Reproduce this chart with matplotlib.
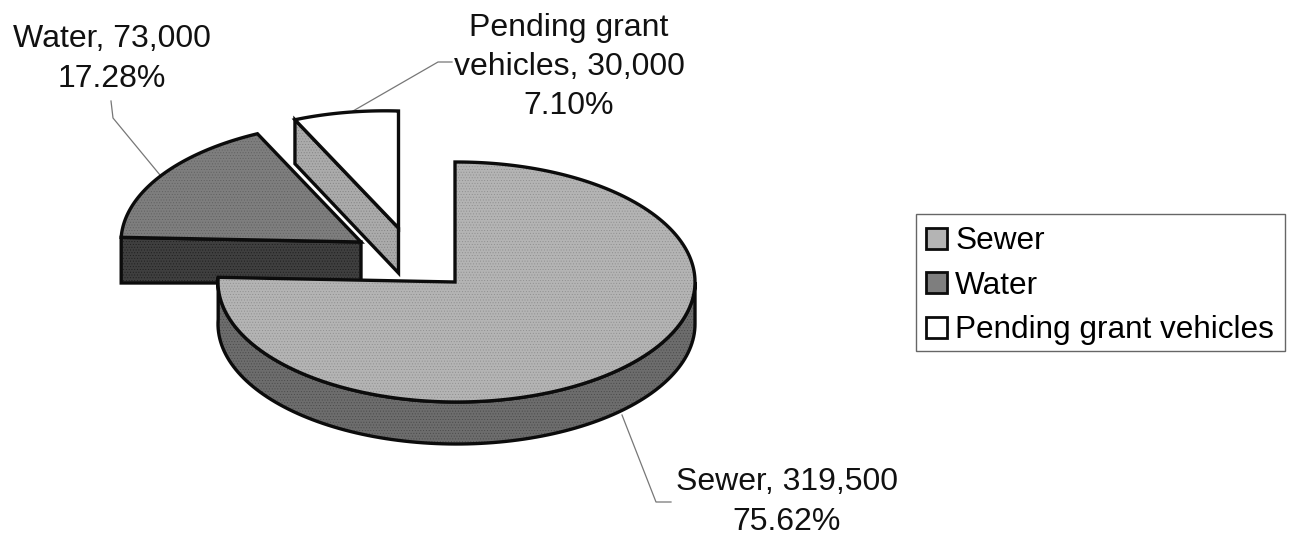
import numpy as np
import matplotlib
matplotlib.use("Agg")
import matplotlib.pyplot as plt
from matplotlib.patches import Polygon, Patch, Rectangle

categories = ["Sewer", "Water", "Pending grant vehicles"]
values = [319500, 73000, 30000]
percent_labels = ["75.62%", "17.28%", "7.10%"]
value_labels = ["319,500", "73,000", "30,000"]

plt.rcParams["font.family"] = ["Liberation Sans", "DejaVu Sans"]
plt.rcParams["hatch.linewidth"] = 0.35

fig = plt.figure(figsize=(12.92, 5.37), dpi=100)
ax = fig.add_axes([0, 0, 1, 1])
ax.set_xlim(0, 1292)
ax.set_ylim(537, 0)
ax.axis("off")

RX, RY, DEPTH = 240, 120, 42
fractions = np.array(values) / sum(values)
ends = np.cumsum(fractions) * 360
starts = ends - fractions * 360


def arc(cx, cy, a0, a1, n=120, rx=RX):
    t = np.radians(np.linspace(a0, a1, n))
    return np.column_stack([cx + rx * np.sin(t), cy - RY * np.cos(t)])


def face(pts, color, tex, z, outline=True):
    ax.add_patch(Polygon(pts, closed=True, facecolor=color, edgecolor=tex,
                         hatch="......" if tex else None, lw=0, zorder=z))
    if outline:
        ax.add_patch(Polygon(pts, closed=True, fill=False, edgecolor="#0c0c0c",
                             lw=2.4, joinstyle="miter", zorder=z + 0.1))


# Water slice
wx, wy = 361, 242
w_arc = arc(wx, wy, starts[1], ends[1])
face(np.array([[wx, wy], [w_arc[0][0], w_arc[0][1]], [w_arc[0][0], wy + DEPTH - 1], [wx, wy + DEPTH - 1]]),
     "#3f3f3f", "#1c1c1c", 2)
face(np.vstack([[wx, wy], w_arc]), "#7e7e7e", "#5e5e5e", 3)

# Pending grant vehicles slice
px, py = 398.5, 228
p_arc = arc(px, py, starts[2], ends[2])
p_arc[:, 1] += (111 - p_arc[-1, 1]) * np.linspace(0, 1, len(p_arc))
face(np.array([p_arc[0], [px, py], [px, py + 45], [p_arc[0][0], p_arc[0][1] + 44]]),
     "#ababab", "#808080", 4)
face(np.vstack([[px, py], p_arc]), "white", None, 5)

# Sewer slice
sx, sy = 455, 282
arc_cx, arc_rx = 456.5, 238.5
s_side = arc(arc_cx, sy, 90, ends[0], rx=arc_rx)
face(np.vstack([s_side, (s_side + [0, DEPTH])[::-1]]), "#6d6d6d", "#474747", 6)
s_top = arc(arc_cx, sy, starts[0], ends[0], 300, rx=arc_rx)
s_top[0, 0] = sx
face(np.vstack([[sx, sy], s_top]), "#b4b4b4", "#8c8c8c", 7)

# Data labels and leaders
fs = 23
lab = dict(ha="center", va="center", fontsize=fs, color="#111111", zorder=10, linespacing=1.4)
ax.text(787, 502, f"{categories[0]}, {value_labels[0]}\n{percent_labels[0]}", **lab)
ax.text(112, 59, f"{categories[1]}, {value_labels[1]}\n{percent_labels[1]}", **lab)
ax.text(569, 67, f"Pending grant\nvehicles, {value_labels[2]}\n{percent_labels[2]}", **lab)

lead = dict(color="#777777", lw=0.9, zorder=1)
ax.plot([622, 656, 671], [415, 502, 502], **lead)
ax.plot([111, 113, 160], [101, 118, 175], **lead)
ax.plot([353, 438, 452], [111, 62, 62], **lead)

# Legend
ax.add_patch(Rectangle((916, 214), 369, 137, facecolor="white", edgecolor="#666666", lw=1.0, zorder=8))
handles = [
    Patch(facecolor="#b4b4b4", edgecolor="#0c0c0c", lw=2),
    Patch(facecolor="#7e7e7e", edgecolor="#0c0c0c", lw=2),
    Patch(facecolor="white", edgecolor="#0c0c0c", lw=2),
]
fs_leg = 22.65
leg = ax.legend(handles, categories, loc="upper left",
                bbox_to_anchor=(915, 215), bbox_transform=ax.transData,
                fontsize=fs_leg, frameon=False,
                handlelength=0.65, handleheight=0.67,
                handletextpad=0.27, labelspacing=0.46, borderpad=0.36, borderaxespad=0)
leg.set_zorder(9)

fig.savefig("out.png", dpi=100)
